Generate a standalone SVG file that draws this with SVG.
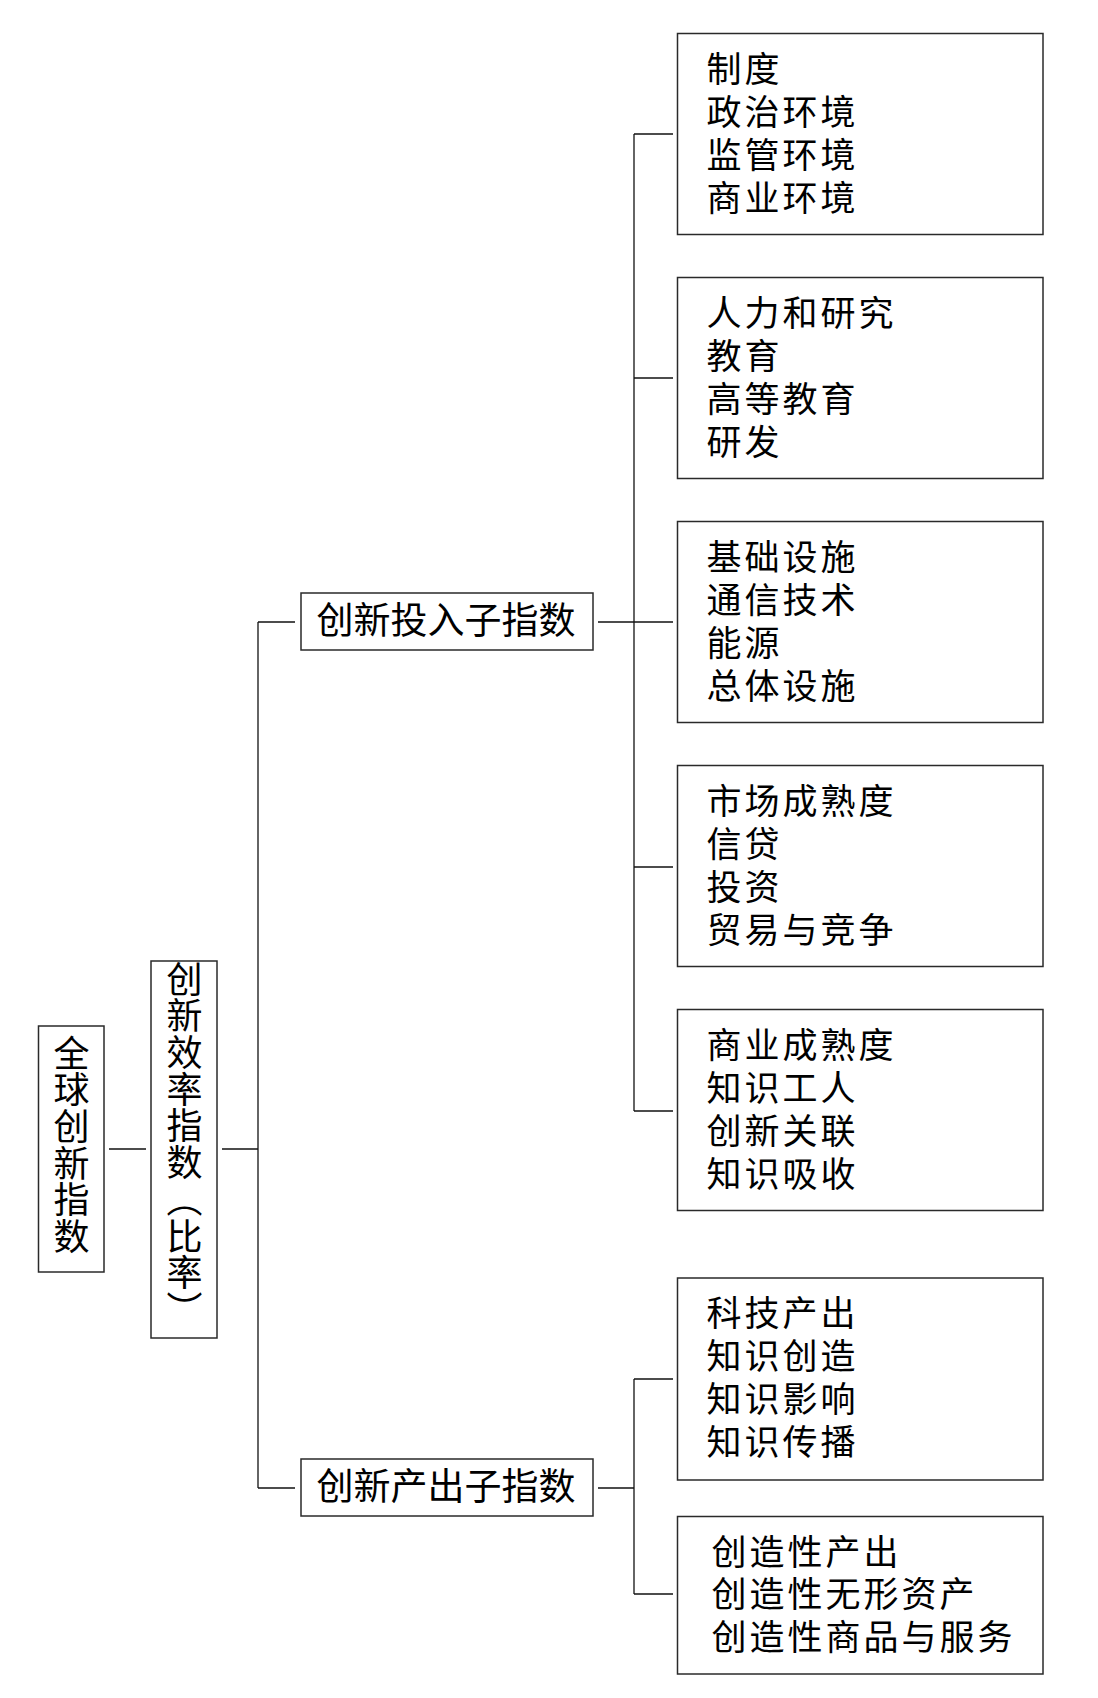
<svg xmlns="http://www.w3.org/2000/svg" width="1098" height="1698" viewBox="0 0 1098 1698">
<style>
  .box { fill: #ffffff; stroke: #2a2a2a; stroke-width: 1.5; }
  .ln { stroke: #111111; stroke-width: 1.3; fill: none; }
  .t { font-family: "Noto Sans CJK SC", "Noto Sans", sans-serif; fill: #000000; }
  .leaf { font-size: 35px; letter-spacing: 3px; }
  .sub { font-size: 37px; }
  .vert { font-size: 36px; writing-mode: vertical-rl; letter-spacing: 0.7px; }
</style>
<rect width="1098" height="1698" fill="#ffffff"/>
<g id="connectors">
  <line class="ln" x1="109" y1="1149" x2="146" y2="1149"/>
  <line class="ln" x1="222" y1="1149" x2="258" y2="1149"/>
  <line class="ln" x1="258" y1="622" x2="258" y2="1488"/>
  <line class="ln" x1="258" y1="622" x2="295" y2="622"/>
  <line class="ln" x1="258" y1="1488" x2="295" y2="1488"/>
  <line class="ln" x1="598" y1="622" x2="673" y2="622"/>
  <line class="ln" x1="634" y1="134" x2="634" y2="1111"/>
  <line class="ln" x1="634" y1="134" x2="673" y2="134"/>
  <line class="ln" x1="634" y1="378" x2="673" y2="378"/>
  <line class="ln" x1="634" y1="867" x2="673" y2="867"/>
  <line class="ln" x1="634" y1="1111" x2="673" y2="1111"/>
  <line class="ln" x1="598" y1="1488" x2="634" y2="1488"/>
  <line class="ln" x1="634" y1="1379" x2="634" y2="1594"/>
  <line class="ln" x1="634" y1="1379" x2="673" y2="1379"/>
  <line class="ln" x1="634" y1="1594" x2="673" y2="1594"/>
</g>
<g id="gii">
  <rect class="box" x="38.5" y="1026" width="65.5" height="246"/>
  <text class="t vert" x="71.5" y="1035">全球创新指数</text>
</g>
<g id="efficiency">
  <rect class="box" x="151" y="961" width="66" height="377"/>
  <text class="t vert" x="184.5" y="961">创新效率指数（比率）</text>
</g>
<g id="input">
  <rect class="box" x="301" y="593" width="292" height="57"/>
  <text class="t sub" x="316.5" y="634">创新投入子指数</text>
</g>
<g id="output">
  <rect class="box" x="301" y="1459" width="292" height="57"/>
  <text class="t sub" x="316.5" y="1500">创新产出子指数</text>
</g>
<g id="institutions">
  <rect class="box" x="677.5" y="33.5" width="365.5" height="201"/>
  <text class="t leaf"><tspan x="706.5" y="81.5">制度</tspan><tspan x="706.5" y="124.5">政治环境</tspan><tspan x="706.5" y="167.5">监管环境</tspan><tspan x="706.5" y="210.5">商业环境</tspan></text>
</g>
<g id="human">
  <rect class="box" x="677.5" y="277.5" width="365.5" height="201"/>
  <text class="t leaf"><tspan x="706.5" y="325.5">人力和研究</tspan><tspan x="706.5" y="368.5">教育</tspan><tspan x="706.5" y="411.5">高等教育</tspan><tspan x="706.5" y="454.5">研发</tspan></text>
</g>
<g id="infrastructure">
  <rect class="box" x="677.5" y="521.5" width="365.5" height="201"/>
  <text class="t leaf"><tspan x="706.5" y="569.5">基础设施</tspan><tspan x="706.5" y="612.5">通信技术</tspan><tspan x="706.5" y="655.5">能源</tspan><tspan x="706.5" y="698.5">总体设施</tspan></text>
</g>
<g id="market">
  <rect class="box" x="677.5" y="765.5" width="365.5" height="201"/>
  <text class="t leaf"><tspan x="706.5" y="813.5">市场成熟度</tspan><tspan x="706.5" y="856.5">信贷</tspan><tspan x="706.5" y="899.5">投资</tspan><tspan x="706.5" y="942.5">贸易与竞争</tspan></text>
</g>
<g id="business">
  <rect class="box" x="677.5" y="1009.5" width="365.5" height="201"/>
  <text class="t leaf"><tspan x="706.5" y="1057.5">商业成熟度</tspan><tspan x="706.5" y="1100.5">知识工人</tspan><tspan x="706.5" y="1143.5">创新关联</tspan><tspan x="706.5" y="1186.5">知识吸收</tspan></text>
</g>
<g id="knowledge">
  <rect class="box" x="677.5" y="1278" width="365.5" height="202"/>
  <text class="t leaf"><tspan x="706.5" y="1326">科技产出</tspan><tspan x="706.5" y="1369">知识创造</tspan><tspan x="706.5" y="1412">知识影响</tspan><tspan x="706.5" y="1455">知识传播</tspan></text>
</g>
<g id="creative">
  <rect class="box" x="677.5" y="1516.5" width="365.5" height="157.5"/>
  <text class="t leaf"><tspan x="711.5" y="1564.5">创造性产出</tspan><tspan x="711.5" y="1607">创造性无形资产</tspan><tspan x="711.5" y="1649.5">创造性商品与服务</tspan></text>
</g>
</svg>
